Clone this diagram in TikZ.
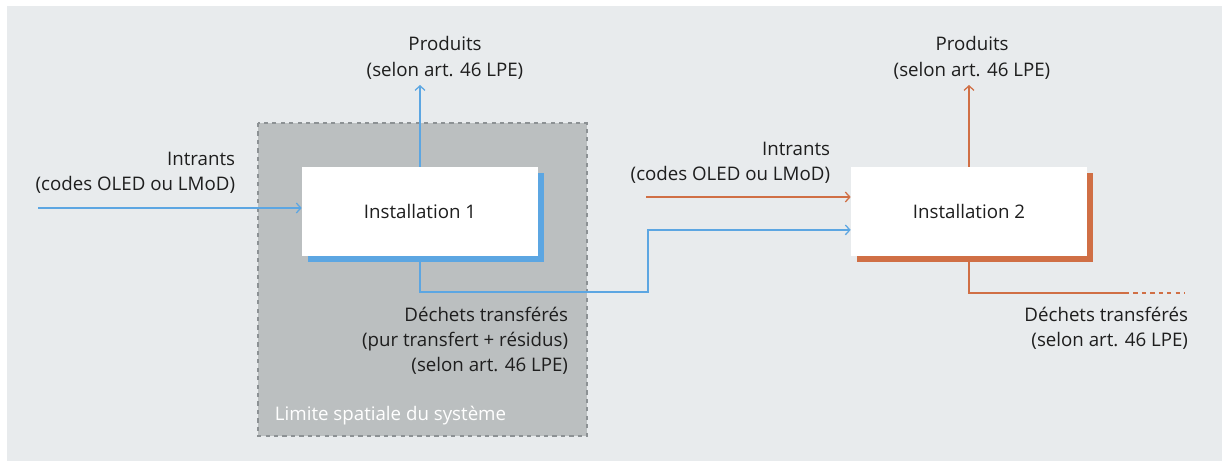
\documentclass[tikz,border=0pt]{standalone}
\usepackage{fontspec}
\setmainfont{Open Sans}
\usetikzlibrary{positioning, arrows.meta, shadows}
\definecolor{bgfill}{HTML}{E8EBED}
\definecolor{sysfill}{HTML}{BBBFC0}
\definecolor{sysline}{HTML}{8C9194}
\definecolor{flowblue}{HTML}{5CA6E2}
\definecolor{floworange}{HTML}{D06F45}
\definecolor{txtgrey}{HTML}{1E1E1E}
\tikzset{
  >={Straight Barb[length=3.2pt, width=7pt]},
  x=0.025cm, y=-0.025cm,
  every node/.style={font=\fontsize{13.3}{18}\selectfont, text=txtgrey},
  install/.style={fill=white, minimum width=5.9cm, minimum height=2.225cm,
    drop shadow={shadow xshift=0.15cm, shadow yshift=-0.15cm, opacity=1, fill=#1}},
  flow/.style={draw=#1, line width=0.9pt},
  flowtext/.style={align=center},
}

\begin{document}
\begin{tikzpicture}
  \useasboundingbox (0,0) rectangle (1222,461);
  \fill[bgfill] (7,6) rectangle (1222,461);

  % system boundary
  \draw[fill=sysfill, draw=sysline, dashed, line width=0.8pt] (258,123) rectangle (587,436);
  \node[anchor=base west, text=white] (limit) at (270,420) {Limite spatiale du système};

  % installations
  \node[install=flowblue] (inst1) at (420,211.5) {Installation 1};
  \node[install=floworange] (inst2) at (969,211.5) {Installation 2};

  % labels
  \node[flowtext] (prod1) at (445,58) {Produits\\(selon art. 46 LPE)};
  \node[flowtext] (prod2) at (972,58) {Produits\\(selon art. 46 LPE)};
  \node[flowtext, align=right, anchor=east] (in1) at (240,173) {Intrants\\(codes OLED ou LMoD)};
  \node[flowtext, align=right, anchor=east] (in2) at (835,163) {Intrants\\(codes OLED ou LMoD)};
  \node[flowtext, align=right, anchor=north east] (waste1) at (573,302) {Déchets transférés\\(pur transfert + résidus)\\(selon art. 46 LPE)};
  \node[flowtext, align=right, anchor=north east] (waste2) at (1193,302) {Déchets transférés\\(selon art. 46 LPE)};

  % coordinates for free ends
  \coordinate (prod1tip) at (420,85);
  \coordinate (prod2tip) at (969,85);
  \coordinate (in1start) at (38,208);
  \coordinate (in2start) at (646,197);
  \coordinate (w1turn) at (648,292);
  \coordinate (w2turn) at (1125,293);
  \coordinate (w2end) at (1185,293);

  % blue flows
  \draw[flow=flowblue, ->] (inst1.north) -- (prod1tip);
  \draw[flow=flowblue, ->] (in1start) -- (inst1.west |- in1start);
  \draw[flow=flowblue, ->] ([yshift=-0.15cm]inst1.south) |- (w1turn) |- ([yshift=-0.46cm]inst2.west);

  % orange flows
  \draw[flow=floworange, ->] (inst2.north) -- (prod2tip);
  \draw[flow=floworange, ->] (in2start) -- (inst2.west |- in2start);
  \draw[flow=floworange] ([yshift=-0.15cm]inst2.south) |- (w2turn);
  \draw[flow=floworange, dashed] (w2turn) -- (w2end);
\end{tikzpicture}
\end{document}
